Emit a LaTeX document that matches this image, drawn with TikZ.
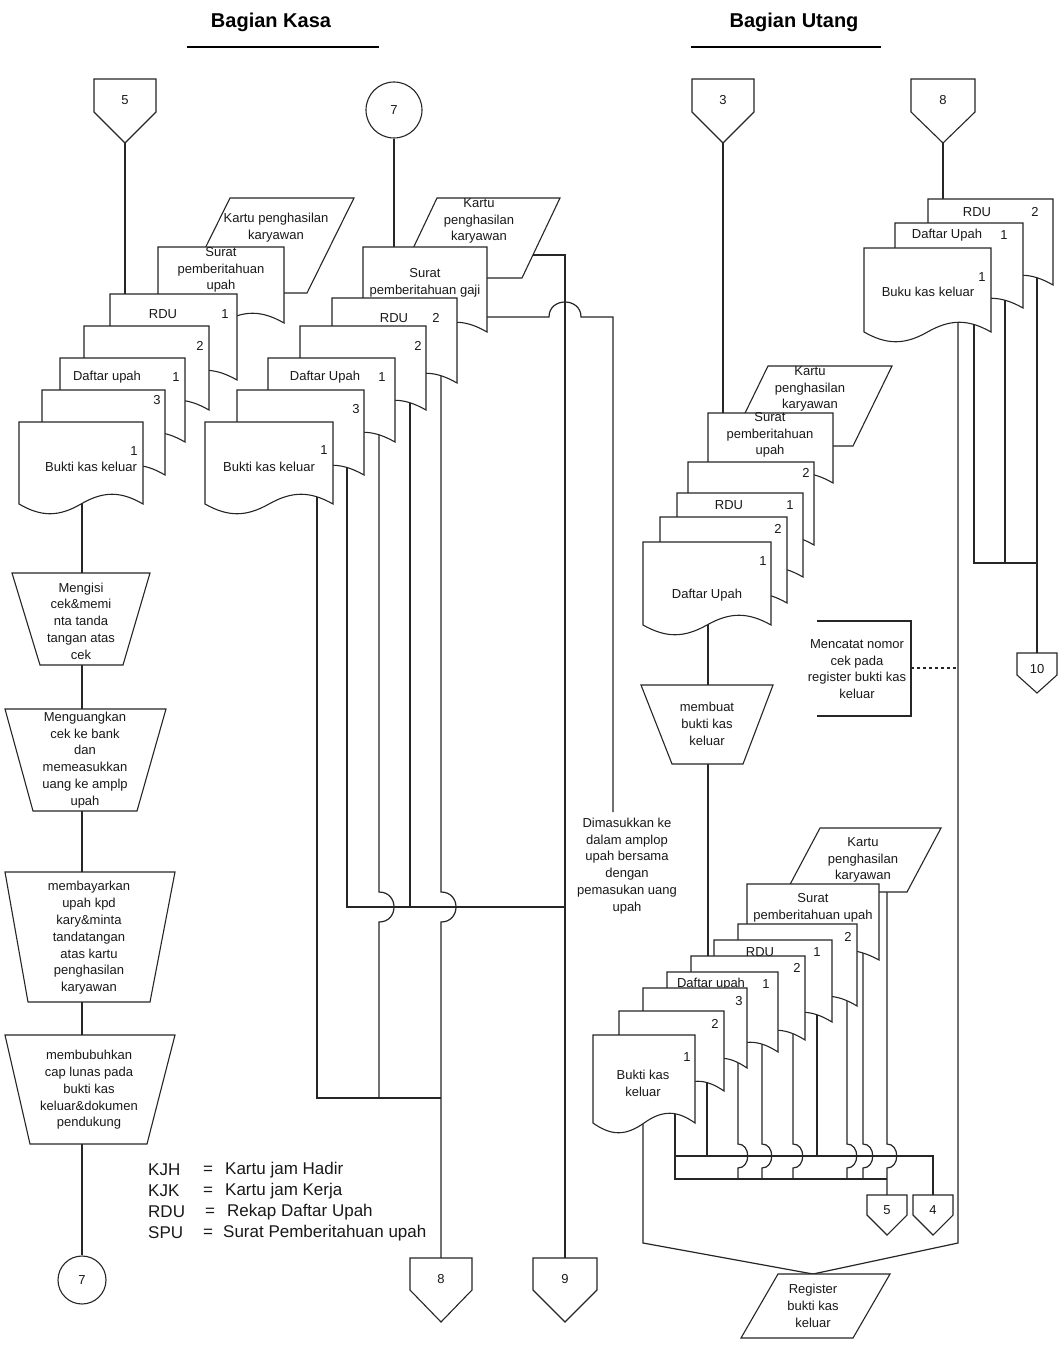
\documentclass[tikz,border=0pt]{standalone}
\usepackage{fontspec}
\setmainfont{Liberation Sans}
\newcommand{\mydoc}[5]{%
  \path[shp] (#2,#3) -- ({#2+#4},#3) -- ({#2+#4},{#3+#5})
    .. controls ({#2+0.82*#4},{#3+#5-13}) and ({#2+0.68*#4},{#3+#5-13}) .. ({#2+0.5*#4},{#3+#5})
    .. controls ({#2+0.32*#4},{#3+#5+13}) and ({#2+0.18*#4},{#3+#5+13}) .. (#2,{#3+#5}) -- cycle;
  \coordinate (#1) at ({#2+0.5*#4},{#3+0.5*#5});}
\newcommand{\mypara}[6]{%
  \path[shp] (#2,#3) -- (#4,#3) -- ({#4-#6},#5) -- ({#2-#6},#5) -- cycle;
  \coordinate (#1) at ({(#2+#4-#6)/2},{(#3+#5)/2});}
\newcommand{\mytrap}[7]{%
  \path[shp] (#3,#2) -- (#4,#2) -- (#7,#5) -- (#6,#5) -- cycle;
  \coordinate (#1) at ({(#3+#4)/2},{(#2+#5)/2});}
\newcommand{\myoff}[7]{%
  \path[shp] ({#2-#4},#3) -- ({#2+#4},#3) -- ({#2+#4},#5) -- (#2,#6) -- ({#2-#4},#5) -- cycle;
  \node[tx] (#1) at (#2,{(#3+#5)/2+5}) {#7};
  \coordinate (#1-top) at (#2,#3);
  \coordinate (#1-tip) at (#2,#6);}
\begin{document}
\begin{tikzpicture}[x=1pt,y=-1pt,
  ln/.style={draw=black!85, line width=1.2pt},
  shp/.style={draw=black!85, line width=1.1pt, fill=white, line join=miter},
  tx/.style={font=\fontsize{13}{16.8}\selectfont, inner sep=0pt, align=center, text=black!90},
  lg/.style={font=\fontsize{17}{20}\selectfont, inner sep=0pt, anchor=west, text=black!90},
  ttl/.style={font=\bfseries\fontsize{20}{24}\selectfont, inner sep=0pt}]
\useasboundingbox (0,0) rectangle (1064,1348);
\fill[white] (0,0) rectangle (1064,1348);

% titles
\node[ttl] (tit1) at (271,22) {Bagian Kasa};
\node[ttl] (tit2) at (794,22) {Bagian Utang};
\draw[line width=2pt] (187,47) -- (379,47);
\draw[line width=2pt] (691,47) -- (881,47);

% ---------- connectors (lines) ----------
\myoff{c5t}{125}{79}{31}{112}{143}{5}
\myoff{c3t}{723}{79}{31}{112}{143}{3}
\myoff{c8t}{943}{79}{32}{112}{143}{8}
\node[circle, shp, tx, minimum size=56pt] (c7a) at (394,110) {7};
\node[circle, shp, tx, minimum size=48pt] (c7b) at (82,1280) {7};

\draw[ln] (c5t-tip) -- (125,294);
\draw[ln] (c7a.south) -- (394,247);
\draw[ln] (c3t-tip) -- (723,413);
\draw[ln] (c8t-tip) -- (943,199);

% left column line
\draw[ln] (82,470) -- (c7b.north);

% middle lines
\coordinate (c9top) at (565,1258);
\coordinate (c8btop) at (441,1258);
\draw[ln] (520,255) -- (565,255) -- (c9top);
\draw[ln] (470,317) -- (549,317) .. controls (549,297) and (581,297) .. (581,317) -- (613,317) -- (613,812);
\draw[ln] (317,470) -- (317,1098) -- (441,1098);
\draw[ln] (347,450) -- (347,907) -- (565,907);
\draw[ln] (379,420) -- (379,892) .. controls (399,892) and (399,922) .. (379,922) -- (379,1098);
\draw[ln] (410,390) -- (410,907);
\draw[ln] (441,360) -- (441,892) .. controls (461,892) and (461,922) .. (441,922) -- (c8btop);

% right top lines
\coordinate (regtop) at (813,1274);
\draw[ln] (958,300) -- (958,1243) -- (regtop);
\draw[ln] (974,300) -- (974,563) -- (1037,563);
\draw[ln] (1005,280) -- (1005,563);
\draw[ln] (1037,260) -- (1037,653);

% right middle
\draw[ln] (708,560) -- (708,685);
\draw[ln] (708,764) -- (708,960);
\draw[ln, dashed] (911,668) -- (958,668);

% bottom right lines
\draw[ln] (643,1080) -- (643,1243) -- (regtop);
\draw[ln] (675,1080) -- (675,1179) -- (887,1179);
\draw[ln] (675,1156) -- (933,1156) -- (933,1195);
\draw[ln] (707,1040) -- (707,1156);
\draw[ln] (817,960) -- (817,1156);
\foreach \x/\s in {738/1010, 762/1000, 793/980, 847/950, 863/930}{
  \draw[ln] (\x,\s) -- (\x,1144) .. controls ({\x+13},1144) and ({\x+13},1168) .. (\x,1168) -- (\x,1179);
}
\draw[ln] (887,880) -- (887,1144) .. controls (900,1144) and (900,1168) .. (887,1168) -- (887,1195);

% ---------- bottom connectors ----------
\myoff{c8b}{441}{1258}{31}{1290}{1322}{8}
\myoff{c9b}{565}{1258}{32}{1290}{1322}{9}
\myoff{c10}{1037}{653}{20}{675}{693}{10}
\myoff{c5b}{887}{1195}{20}{1215}{1235}{5}
\myoff{c4b}{933}{1195}{20}{1215}{1235}{4}

% ---------- left stack ----------
\mypara{kL}{230}{198}{354}{293}{47}
\node[tx] (tkL) at (276,228) {Kartu penghasilan\\karyawan};
\mydoc{sL}{158}{247}{126}{76}
\node[tx] (tsL) at (221,270) {Surat\\pemberitahuan\\upah};
\mydoc{rL}{110}{294}{127}{86}
\node[tx] (trL) at (163,314) {RDU}; \node[tx] (trL1) at (225,314) {1};
\mydoc{d2L}{84}{326}{125}{84}
\node[tx] (td2L) at (200,346) {2};
\mydoc{dfL}{60}{358}{125}{84}
\node[tx] (tdfL) at (107,377) {Daftar upah}; \node[tx] (tdfL1) at (176,377) {1};
\mydoc{d3L}{42}{390}{123}{85}
\node[tx] (td3L) at (157,400) {3};
\mydoc{bL}{19}{422}{124}{82}
\node[tx] (tbL1) at (134,451) {1}; \node[tx] (tbL) at (91,467) {Bukti kas keluar};

% left processes
\mytrap{p1}{573}{12}{150}{665}{40}{123}
\node[tx] (tp1) at (81,621) {Mengisi\\cek\&memi\\nta tanda\\tangan atas\\cek};
\mytrap{p2}{709}{5}{166}{811}{33}{137}
\node[tx] (tp2) at (85,760) {Menguangkan\\cek ke bank\\dan\\memeasukkan\\uang ke amplp\\upah};
\mytrap{p3}{872}{5}{175}{1002}{28}{150}
\node[tx] (tp3) at (89,938) {membayarkan\\upah kpd\\kary\&minta\\tandatangan\\atas kartu\\penghasilan\\karyawan};
\mytrap{p4}{1035}{5}{175}{1144}{30}{147}
\node[tx] (tp4) at (89,1090) {membubuhkan\\cap lunas pada\\bukti kas\\keluar\&dokumen\\pendukung};

% ---------- middle stack ----------
\mypara{kM}{437}{198}{560}{278}{38}
\node[tx] (tkM) at (479,221) {Kartu\\penghasilan\\karyawan};
\mydoc{sM}{363}{247}{124}{85}
\node[tx] (tsM) at (425,283) {Surat\\pemberitahuan gaji};
\mydoc{rM}{332}{298}{125}{85}
\node[tx] (trM) at (394,318) {RDU}; \node[tx] (trM2) at (436,318) {2};
\mydoc{d2M}{300}{326}{126}{84}
\node[tx] (td2M) at (418,346) {2};
\mydoc{dfM}{268}{358}{127}{84}
\node[tx] (tdfM) at (325,377) {Daftar Upah}; \node[tx] (tdfM1) at (382,377) {1};
\mydoc{d3M}{237}{390}{127}{85}
\node[tx] (td3M) at (356,409) {3};
\mydoc{bM}{205}{422}{128}{82}
\node[tx] (tbM1) at (324,450) {1}; \node[tx] (tbM) at (269,467) {Bukti kas keluar};

\node[tx] (dim) at (627,866) {Dimasukkan ke\\dalam amplop\\upah bersama\\dengan\\pemasukan uang\\upah};

% legend
\node[lg] (lk1) at (148,1170) {KJH}; \node[lg] (le1) at (203,1170) {=}; \node[lg] (ld1) at (225,1170) {Kartu jam Hadir};
\node[lg] (lk2) at (148,1191) {KJK}; \node[lg] (le2) at (203,1191) {=}; \node[lg] (ld2) at (225,1191) {Kartu jam Kerja};
\node[lg] (lk3) at (148,1212) {RDU}; \node[lg] (le3) at (205,1212) {=}; \node[lg] (ld3) at (227,1212) {Rekap Daftar Upah};
\node[lg] (lk4) at (148,1233) {SPU}; \node[lg] (le4) at (203,1233) {=}; \node[lg] (ld4) at (223,1233) {Surat Pemberitahuan upah};

% ---------- right stack 1 ----------
\mypara{kR1}{768}{366}{892}{446}{39}
\node[tx] (tkR1) at (810,389) {Kartu\\penghasilan\\karyawan};
\mydoc{sR1}{708}{413}{125}{70}
\node[tx] (tsR1) at (770,435) {Surat\\pemberitahuan\\upah};
\mydoc{d2R1}{688}{462}{126}{83}
\node[tx] (td2R1) at (806,473) {2};
\mydoc{rR1}{677}{493}{126}{84}
\node[tx] (trR1) at (729,505) {RDU}; \node[tx] (trR11) at (790,505) {1};
\mydoc{d2bR1}{660}{517}{127}{86}
\node[tx] (td2bR1) at (778,529) {2};
\mydoc{dfR1}{643}{542}{128}{83}
\node[tx] (tdfR11) at (763,561) {1}; \node[tx] (tdfR1) at (707,595) {Daftar Upah};

\mytrap{mb}{685}{641}{773}{764}{672}{743}
\node[tx] (tmb) at (707,724) {membuat\\bukti kas\\keluar};

\draw[shp, fill=none] (817,621) -- (911,621) -- (911,716) -- (817,716);
\node[tx] (tmc) at (857,669) {Mencatat nomor\\cek pada\\register bukti kas\\keluar};

% ---------- right top stack ----------
\mydoc{rR2}{928}{199}{125}{86}
\node[tx] (trR2) at (977,212) {RDU}; \node[tx] (trR22) at (1035,212) {2};
\mydoc{dfR2}{895}{223}{128}{85}
\node[tx] (tdfR2) at (947,235) {Daftar Upah}; \node[tx] (tdfR21) at (1004,235) {1};
\mydoc{bkR2}{864}{248}{127}{84}
\node[tx] (tbk1) at (982,277) {1}; \node[tx] (tbk) at (928,292) {Buku kas keluar};

% ---------- bottom right stack ----------
\mypara{kR3}{820}{828}{941}{892}{34}
\node[tx] (tkR3) at (863,860) {Kartu\\penghasilan\\karyawan};
\mydoc{sR3}{747}{884}{132}{76}
\node[tx] (tsR3) at (813,908) {Surat\\pemberitahuan upah};
\mydoc{d2R3}{738}{924}{119}{82}
\node[tx] (td2R3) at (848,937) {2};
\mydoc{rR3}{714}{940}{118}{82}
\node[tx] (trR3) at (760,952) {RDU}; \node[tx] (trR31) at (817,952) {1};
\mydoc{d2bR3}{691}{956}{114}{84}
\node[tx] (td2bR3) at (797,968) {2};
\mydoc{dfR3}{667}{972}{111}{80}
\node[tx] (tdfR3) at (711,984) {Daftar upah}; \node[tx] (tdfR31) at (766,984) {1};
\mydoc{d3R3}{643}{988}{104}{80}
\node[tx] (td3R3) at (739,1001) {3};
\mydoc{d2cR3}{619}{1011}{105}{80}
\node[tx] (td2cR3) at (715,1024) {2};
\mydoc{bR3}{593}{1035}{102}{88}
\node[tx] (tbR31) at (687,1057) {1}; \node[tx] (tbR3) at (643,1083) {Bukti kas\\keluar};

% register
\mypara{reg}{778}{1274}{890}{1338}{37}
\node[tx] (treg) at (813,1306) {Register\\bukti kas\\keluar};
\end{tikzpicture}
\end{document}
